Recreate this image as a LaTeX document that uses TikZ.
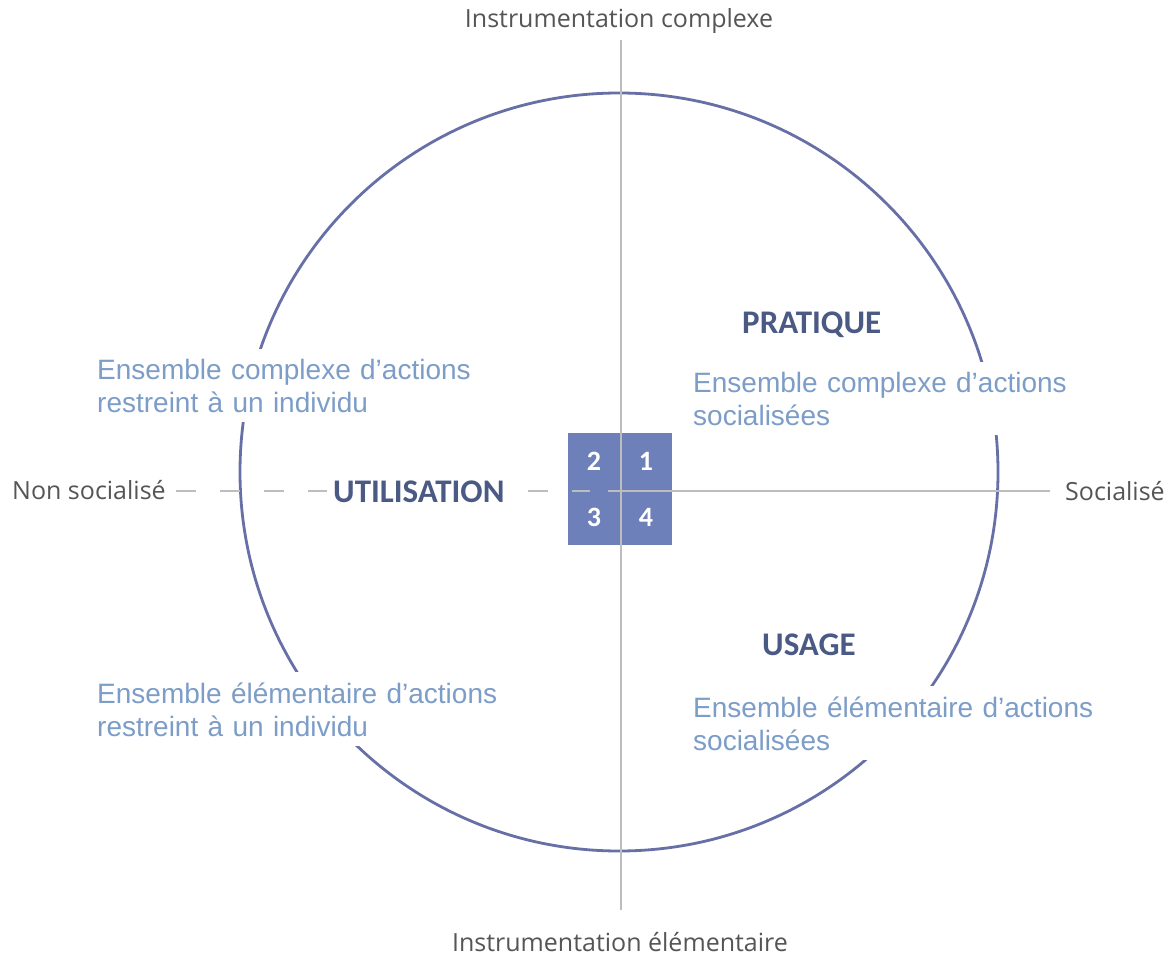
\documentclass[tikz,border=0pt]{standalone}
\usepackage{fontspec}
\setmainfont{Liberation Sans}
\newfontfamily\axisfont{Open Sans}
\newfontfamily\headfont{Carlito}
\usepackage{tikz}
\usetikzlibrary{positioning}

\definecolor{axisgray}{HTML}{BDBDBD}
\definecolor{ringblue}{HTML}{6770A6}
\definecolor{cellblue}{HTML}{6E80B9}
\definecolor{headblue}{HTML}{4A5A84}
\definecolor{textblue}{HTML}{7C9DC8}
\definecolor{labelgray}{HTML}{555555}

\begin{document}
\begin{tikzpicture}[x=1pt,y=-1pt,
  axis/.style={draw=axisgray,line width=1.6pt},
  ring/.style={draw=ringblue,line width=2.8pt},
  cell/.style={fill=cellblue,minimum width=52pt,minimum height=56pt,inner sep=0pt,
    text=white,font=\headfont\bfseries\fontsize{28}{32}\selectfont},
  pole/.style={inner sep=0pt,text=labelgray,font=\axisfont\fontsize{25}{30}\selectfont},
  head/.style={inner sep=0pt,text=headblue,font=\headfont\bfseries\fontsize{33}{38}\selectfont},
  block/.style={fill=white,inner xsep=4pt,inner ysep=10pt,align=left,anchor=base west,
    text=textblue,font=\fontsize{28}{33}\selectfont}]
  \useasboundingbox[fill=white] (0,0) rectangle (1173,955);

  % Circle
  \draw[ring] (619,472) circle [radius=379pt];

  % Quadrant cells
  \node[cell] (q2) at (594,461) {2};
  \node[cell] (q1) at (646,461) {1};
  \node[cell] (q3) at (594,517) {3};
  \node[cell] (q4) at (646,517) {4};

  % Axes
  \coordinate (top)    at (621,40);
  \coordinate (bottom) at (621,910);
  \coordinate (west)   at (176,491);
  \coordinate (gap w)  at (590,491);
  \coordinate (gap e)  at (608,491);
  \coordinate (east)   at (1050,491);
  \draw[axis] (top) -- (bottom);
  \draw[axis,dash pattern=on 20pt off 24pt] (west) -- (gap w);
  \draw[axis] (gap e) -- (east);

  % Axis labels
  \node[pole,anchor=base]      (complex)  at (619,28)  {Instrumentation complexe};
  \node[pole,anchor=base]      (element)  at (620,951) {Instrumentation élémentaire};
  \node[pole,anchor=base west] (nonsoc)   at (12,499)  {Non socialisé};
  \node[pole,anchor=base west] (soc)      at (1065,500) {Socialisé};

  % Headings
  \node[head,anchor=base west,fill=white,inner xsep=6pt] (utilisation) at (327,502) {UTILISATION};
  \node[head,anchor=base west] (pratique) at (742,333) {PRATIQUE};
  \node[head,anchor=base west] (usage)    at (762,655) {USAGE};

  % Quadrant texts
  \node[block,text width=380pt] (ul) at (93,379)
    {Ensemble complexe d’actions\\restreint à un individu};
  \node[block,text width=380pt] (ur) at (689,392)
    {Ensemble complexe d’actions\\socialisées};
  \node[block,text width=410pt] (ll) at (93,703)
    {Ensemble élémentaire d’actions\\restreint à un individu};
  \node[block,text width=410pt] (lr) at (689,717)
    {Ensemble élémentaire d’actions\\socialisées};
\end{tikzpicture}
\end{document}
